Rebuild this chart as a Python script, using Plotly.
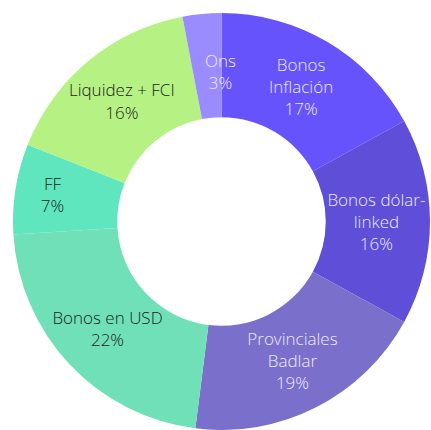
import plotly.graph_objects as go

labels = ["Bonos<br>Inflación", "Bonos dólar-<br>linked", "Provinciales<br>Badlar",
          "Bonos en USD", "FF", "Liquidez + FCI", "Ons"]
values = [17, 16, 19, 22, 7, 16, 3]
colors = ["#6753fb", "#5e4ed8", "#7a6fca", "#6fe0b7", "#5fe6bf", "#b5f283", "#9a8cff"]
text_colors = ["#eeebff", "#eeebff", "#eeebff", "#1c2320", "#1c2320", "#1c2320", "#eeebff"]

# slice labels; the narrow "Ons" slice gets its label as an annotation
texts = [f"{l}<br>{v}%" for l, v in zip(labels, values)]
slice_texts = texts[:-1] + [""]

FONT = "Open Sans"

fig = go.Figure(go.Pie(
    labels=labels,
    values=values,
    hole=0.5,
    sort=False,
    direction="clockwise",
    rotation=0,
    marker=dict(colors=colors, line=dict(width=0)),
    text=slice_texts,
    textinfo="text",
    textposition="inside",
    insidetextorientation="horizontal",
    textfont=dict(family=FONT, size=17, color=text_colors, weight=300),
    showlegend=False,
    hoverinfo="label+percent",
    domain=dict(x=[12/431, 1], y=[0, 1 - 13/430]),
))
fig.add_annotation(
    text=texts[-1], x=220/431, y=1 - 71/430, xref="paper", yref="paper",
    xanchor="center", yanchor="middle",
    showarrow=False, font=dict(family=FONT, size=17, color=text_colors[-1], weight=300),
)
fig.update_layout(
    width=431, height=430,
    margin=dict(l=0, r=0, t=0, b=0),
    paper_bgcolor="white",
    uniformtext=dict(minsize=17, mode="show"),
)
fig.write_html("out.html")
